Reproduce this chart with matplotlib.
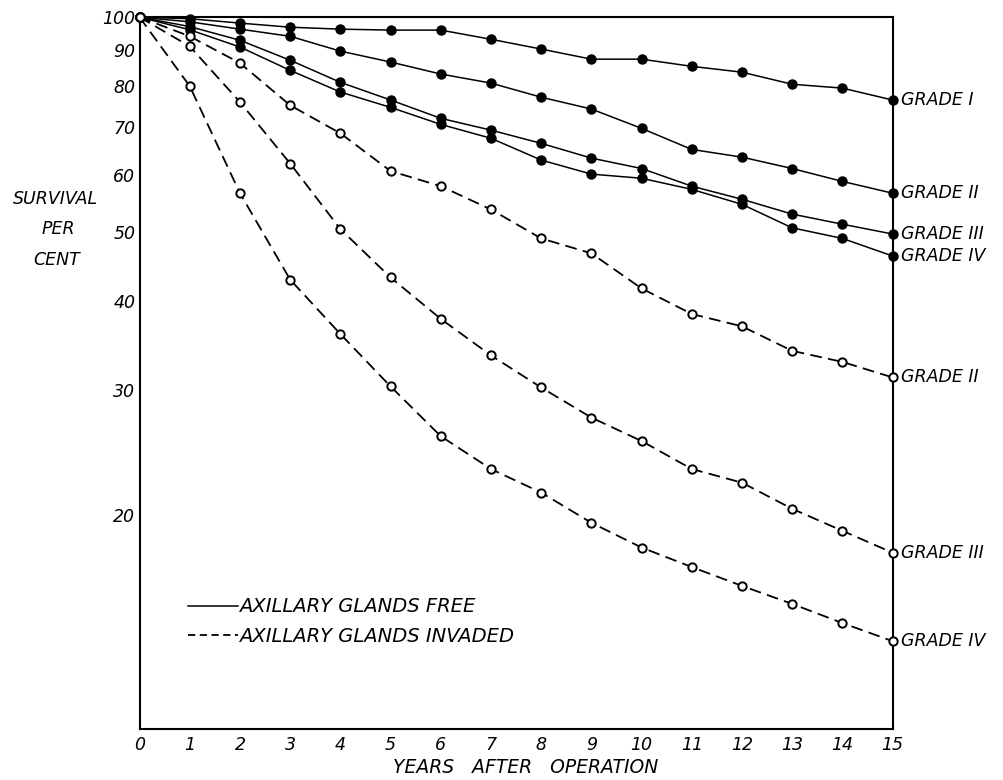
import matplotlib.pyplot as plt
from matplotlib.lines import Line2D

years = list(range(16))

# axillary glands free (solid, filled markers)
free_grade_1 = [100, 99.5, 98.1, 96.8, 96.2, 95.9, 95.9, 93.1, 90.2, 87.3, 87.3, 85.3, 83.7, 80.5, 79.5, 76.5]
free_grade_2 = [100, 98.5, 96.2, 94.0, 89.6, 86.5, 83.2, 80.8, 77.2, 74.3, 69.8, 65.2, 63.6, 61.3, 58.8, 56.6]
free_grade_3 = [100, 97.0, 92.8, 87.0, 81.0, 76.5, 72.1, 69.4, 66.5, 63.4, 61.3, 57.9, 55.5, 52.9, 51.2, 49.6]
free_grade_4 = [100, 96.0, 90.8, 84.2, 78.5, 74.7, 70.7, 67.6, 63.0, 60.2, 59.4, 57.3, 54.6, 50.6, 48.9, 46.2]

# axillary glands invaded (dashed, open markers)
inv_grade_2 = [100, 94.0, 86.2, 75.2, 68.7, 60.8, 57.9, 53.7, 48.9, 46.6, 41.6, 38.3, 36.8, 34.0, 32.8, 31.2]
inv_grade_3 = [100, 91.0, 76.0, 62.3, 50.4, 43.1, 37.7, 33.5, 30.2, 27.4, 25.4, 23.2, 22.2, 20.4, 19.0, 17.7]
inv_grade_4 = [100, 80.0, 56.6, 42.8, 35.9, 30.3, 25.8, 23.2, 21.5, 19.5, 18.0, 16.9, 15.9, 15.0, 14.1, 13.3]

free_series = [("GRADE I", free_grade_1), ("GRADE II", free_grade_2),
               ("GRADE III", free_grade_3), ("GRADE IV", free_grade_4)]
inv_series = [("GRADE II", inv_grade_2), ("GRADE III", inv_grade_3),
              ("GRADE IV", inv_grade_4)]

y_ticks = [20, 30, 40, 50, 60, 70, 80, 90, 100]

font = dict(family="DejaVu Sans", style="italic")

fig = plt.figure(figsize=(10.04, 7.8), dpi=100)
ax = fig.add_axes([0.139, 0.065, 0.75, 0.913])

for name, vals in free_series:
    ax.plot(years, vals, color="black", lw=1.1, marker="o", ms=6.5,
            mfc="black", mec="black", clip_on=False, zorder=3)
    ax.annotate(name, (years[-1], vals[-1]), xytext=(6, 0),
                textcoords="offset points", va="center", ha="left",
                fontsize=12.5, annotation_clip=False, **font)

for name, vals in inv_series:
    ax.plot(years, vals, color="black", lw=1.3, dashes=(6.5, 3.5), marker="o",
            ms=6, mfc="white", mec="black", mew=1.4, clip_on=False, zorder=3)
    ax.annotate(name, (years[-1], vals[-1]), xytext=(6, 0),
                textcoords="offset points", va="center", ha="left",
                fontsize=12.5, annotation_clip=False, **font)

ax.set_yscale("log")
ax.set_xlim(0, 15)
ax.set_ylim(10, 100)
ax.set_xticks(years)
ax.set_xticklabels([str(y) for y in years], fontsize=12.5, **font)
ax.set_yticks(y_ticks)
ax.set_yticklabels([str(v) for v in y_ticks], fontsize=12.5, **font)
ax.minorticks_off()
ax.tick_params(axis="both", length=0)
ax.tick_params(axis="x", pad=5)
ax.tick_params(axis="y", pad=3)
for sp in ax.spines.values():
    sp.set_linewidth(1.5)

fig.text(0.055, 0.745, "SURVIVAL", ha="center", va="center", fontsize=12.5, **font)
fig.text(0.058, 0.706, "PER", ha="center", va="center", fontsize=12.5, **font)
fig.text(0.056, 0.667, "CENT", ha="center", va="center", fontsize=12.5, **font)
fig.text(0.524, 0.016, "YEARS   AFTER   OPERATION", ha="center", va="center",
         fontsize=13.5, **font)

handles = [Line2D([], [], color="black", lw=1.1),
           Line2D([], [], color="black", lw=1.3, dashes=(4, 2.5))]
leg = ax.legend(handles, ["AXILLARY GLANDS FREE", "AXILLARY GLANDS INVADED"],
                loc="center left", bbox_to_anchor=(0.064, 0.151), frameon=False,
                handlelength=2.6, handletextpad=0.05, labelspacing=0.55,
                borderpad=0, borderaxespad=0,
                prop=dict(family="DejaVu Sans", style="italic", size=14))

fig.savefig("out.png", dpi=100)
plt.close(fig)
